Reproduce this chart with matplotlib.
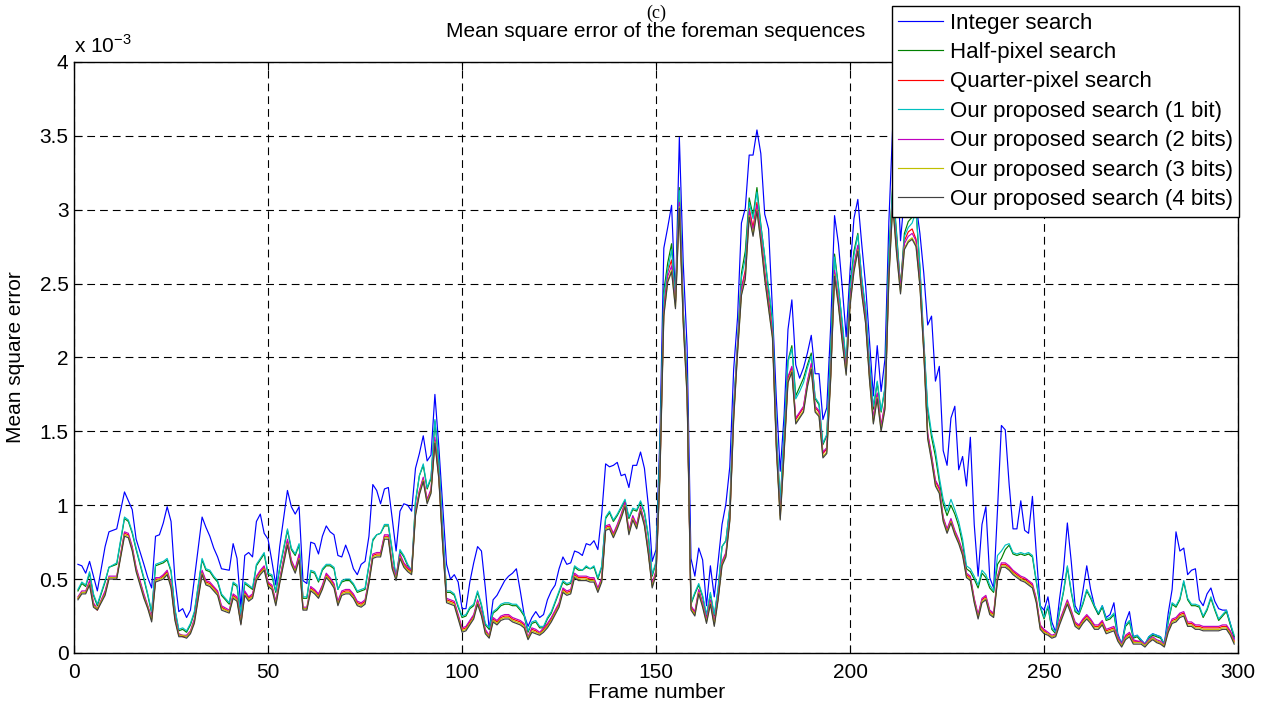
import numpy as np
import matplotlib
matplotlib.use("Agg")
from matplotlib import pyplot as plt
from matplotlib.ticker import FuncFormatter

plt.rcParams["font.family"] = ["Liberation Sans", "DejaVu Sans"]

# frame numbers (first part read at irregular frames, then every frame)
frames = [1, 2, 3, 4, 5, 6, 8, 9, 11, 13, 14, 15, 16, 18, 19, 20, 21, 22, 23,
          24, 25, 26, 27, 28, 29, 30, 31, 33, 34, 35, 36, 37, 38, 40, 41, 42,
          43, 44, 45, 46, 47, 48, 49, 50, 51, 52, 53, 55, 56, 57, 58, 59, 60,
          61, 62, 63, 64, 65] + list(range(66, 300))

# mean square error, in units of 1e-3
integer_search = [
    0.60, 0.59, 0.54, 0.62, 0.52, 0.42, 0.72, 0.82, 0.84, 1.09, 1.03, 0.97, 0.77,
    0.60, 0.51, 0.44, 0.79, 0.80, 0.88, 0.99, 0.89, 0.50, 0.28, 0.30, 0.24, 0.29, 0.50,
    0.92, 0.85, 0.79, 0.71, 0.65, 0.57,
    0.56, 0.74, 0.64, 0.31, 0.66, 0.68, 0.65, 0.89, 0.94, 0.81, 0.77, 0.62, 0.46, 0.72,
    1.10, 0.99, 0.94, 0.99, 0.49, 0.47, 0.75, 0.74, 0.67, 0.79, 0.86,
    0.82, 0.80, 0.66, 0.65, 0.73, 0.66, 0.57, 0.53, 0.60, 0.62,
    0.79, 1.14, 1.10, 1.01, 1.11, 1.12, 0.91, 0.69, 0.96, 1.01,
    1.00, 0.96, 1.25, 1.35, 1.47, 1.30, 1.34, 1.75, 1.40, 1.00,
    0.60, 0.50, 0.53, 0.48, 0.30, 0.30, 0.48, 0.61, 0.72, 0.69,
    0.44, 0.16, 0.36, 0.39, 0.44, 0.49, 0.52, 0.54, 0.57, 0.42,
    0.26, 0.18, 0.24, 0.28, 0.24, 0.26, 0.36, 0.42, 0.46, 0.57,
    0.65, 0.60, 0.61, 0.69, 0.68, 0.66, 0.74, 0.73, 0.76, 0.70,
    0.94, 1.28, 1.26, 1.27, 1.29, 1.20, 1.21, 1.12, 1.27, 1.27,
    1.36, 1.25, 1.00, 0.62, 0.70, 1.47, 2.74, 2.88, 3.03, 2.38,
    3.49, 2.64, 2.07, 0.64, 0.52, 0.71, 0.63, 0.32, 0.59, 0.38,
    0.62, 0.87, 1.01, 1.26, 1.92, 2.27, 2.91, 3.01, 3.37, 3.37,
    3.54, 3.38, 2.97, 2.87, 2.32, 1.72, 1.23, 1.61, 2.19, 2.39,
    1.95, 1.86, 1.93, 2.03, 2.15, 1.89, 1.89, 1.58, 1.66, 2.21,
    2.96, 2.77, 2.47, 2.14, 2.59, 2.94, 3.07, 2.77, 2.49, 2.12,
    1.74, 2.08, 1.77, 1.99, 2.92, 3.57, 3.37, 2.79, 3.09, 3.17,
    3.27, 3.04, 2.84, 2.57, 2.22, 2.28, 1.84, 1.94, 1.37, 1.27,
    1.59, 1.67, 1.24, 1.33, 1.13, 1.46, 0.87, 0.52, 0.87, 0.99,
    0.51, 0.44, 0.97, 1.54, 1.51, 1.14, 0.84, 0.84, 1.03, 0.83,
    0.81, 1.06, 0.67, 0.32, 0.29, 0.38, 0.21, 0.14, 0.37, 0.56,
    0.88, 0.62, 0.32, 0.27, 0.42, 0.59, 0.43, 0.32, 0.26, 0.32,
    0.24, 0.26, 0.34, 0.13, 0.06, 0.21, 0.28, 0.11, 0.12, 0.09,
    0.06, 0.11, 0.13, 0.12, 0.11, 0.06, 0.27, 0.43, 0.82, 0.69,
    0.71, 0.53, 0.56, 0.57, 0.36, 0.32, 0.40, 0.44, 0.35, 0.30,
    0.29, 0.29, 0.20, 0.10]

half_pixel = [
    0.42, 0.47, 0.45, 0.54, 0.39, 0.32, 0.48, 0.58, 0.60, 0.91, 0.89, 0.81, 0.70,
    0.50, 0.39, 0.27, 0.59, 0.60, 0.61, 0.63, 0.55, 0.29, 0.15, 0.16, 0.14, 0.19, 0.27,
    0.63, 0.56, 0.55, 0.51, 0.48, 0.39,
    0.33, 0.47, 0.45, 0.25, 0.47, 0.45, 0.43, 0.59, 0.63, 0.67, 0.53, 0.52, 0.41, 0.57,
    0.83, 0.70, 0.66, 0.73, 0.37, 0.37, 0.55, 0.54, 0.48, 0.56, 0.59,
    0.59, 0.57, 0.43, 0.48, 0.49, 0.49, 0.46, 0.41, 0.42, 0.43,
    0.59, 0.76, 0.80, 0.81, 0.86, 0.86, 0.69, 0.50, 0.69, 0.65,
    0.59, 0.55, 1.02, 1.20, 1.27, 1.11, 1.18, 1.57, 1.29, 0.82,
    0.41, 0.41, 0.39, 0.31, 0.24, 0.25, 0.30, 0.32, 0.41, 0.32,
    0.19, 0.16, 0.27, 0.29, 0.32, 0.33, 0.33, 0.32, 0.32, 0.29,
    0.25, 0.14, 0.20, 0.21, 0.17, 0.17, 0.23, 0.27, 0.34, 0.41,
    0.48, 0.46, 0.47, 0.58, 0.56, 0.56, 0.58, 0.57, 0.58, 0.50,
    0.58, 0.91, 0.95, 0.89, 0.93, 0.98, 1.03, 0.91, 0.97, 0.96,
    1.02, 0.95, 0.79, 0.52, 0.61, 1.36, 2.45, 2.64, 2.77, 2.40,
    3.15, 2.33, 1.82, 0.33, 0.40, 0.46, 0.38, 0.25, 0.40, 0.25,
    0.43, 0.72, 0.76, 0.98, 1.66, 2.10, 2.57, 2.72, 3.08, 2.96,
    3.15, 2.90, 2.68, 2.45, 2.25, 1.48, 1.01, 1.48, 1.98, 2.08,
    1.74, 1.80, 1.86, 1.95, 2.03, 1.72, 1.68, 1.41, 1.47, 2.03,
    2.70, 2.48, 2.22, 1.95, 2.48, 2.72, 2.84, 2.53, 2.32, 1.95,
    1.65, 1.83, 1.63, 1.79, 2.70, 3.17, 2.84, 2.48, 2.84, 2.92,
    2.95, 3.00, 2.60, 2.10, 1.64, 1.46, 1.33, 1.16, 1.01, 0.93,
    1.00, 0.94, 0.86, 0.74, 0.57, 0.55, 0.50, 0.44, 0.54, 0.51,
    0.44, 0.41, 0.60, 0.64, 0.70, 0.73, 0.67, 0.66, 0.67, 0.66,
    0.67, 0.65, 0.48, 0.31, 0.23, 0.31, 0.16, 0.13, 0.28, 0.41,
    0.58, 0.41, 0.28, 0.26, 0.33, 0.42, 0.37, 0.31, 0.26, 0.31,
    0.22, 0.23, 0.26, 0.11, 0.06, 0.18, 0.21, 0.10, 0.11, 0.08,
    0.06, 0.10, 0.12, 0.11, 0.10, 0.06, 0.21, 0.33, 0.31, 0.36,
    0.48, 0.36, 0.32, 0.32, 0.31, 0.24, 0.29, 0.37, 0.29, 0.22,
    0.25, 0.28, 0.19, 0.11]

quarter_pixel = [
    0.37, 0.41, 0.41, 0.48, 0.33, 0.29, 0.41, 0.51, 0.51, 0.81, 0.80, 0.71, 0.57,
    0.39, 0.31, 0.23, 0.50, 0.50, 0.52, 0.55, 0.46, 0.24, 0.12, 0.11, 0.11, 0.14, 0.22,
    0.55, 0.48, 0.47, 0.44, 0.41, 0.31,
    0.28, 0.39, 0.37, 0.20, 0.41, 0.37, 0.39, 0.51, 0.55, 0.58, 0.47, 0.45, 0.34, 0.49,
    0.76, 0.62, 0.56, 0.66, 0.30, 0.30, 0.44, 0.42, 0.39, 0.45, 0.53,
    0.50, 0.46, 0.34, 0.41, 0.42, 0.42, 0.39, 0.34, 0.33, 0.35,
    0.49, 0.66, 0.67, 0.67, 0.79, 0.79, 0.59, 0.51, 0.66, 0.60,
    0.57, 0.55, 0.95, 1.09, 1.18, 1.03, 1.10, 1.44, 1.20, 0.75,
    0.36, 0.35, 0.34, 0.25, 0.16, 0.17, 0.21, 0.25, 0.35, 0.27,
    0.15, 0.11, 0.23, 0.21, 0.24, 0.25, 0.25, 0.23, 0.22, 0.21,
    0.19, 0.10, 0.16, 0.15, 0.13, 0.16, 0.19, 0.23, 0.28, 0.33,
    0.43, 0.41, 0.42, 0.53, 0.51, 0.51, 0.51, 0.50, 0.50, 0.43,
    0.50, 0.85, 0.86, 0.80, 0.86, 0.93, 1.01, 0.82, 0.92, 0.86,
    0.98, 0.88, 0.69, 0.46, 0.55, 1.23, 2.34, 2.58, 2.66, 2.38,
    3.07, 2.28, 1.78, 0.31, 0.27, 0.42, 0.33, 0.22, 0.35, 0.20,
    0.38, 0.61, 0.67, 0.91, 1.61, 2.06, 2.47, 2.59, 3.01, 2.88,
    3.05, 2.83, 2.58, 2.38, 2.18, 1.41, 0.93, 1.38, 1.86, 1.93,
    1.58, 1.62, 1.66, 1.83, 1.95, 1.66, 1.63, 1.35, 1.38, 1.88,
    2.58, 2.38, 2.13, 1.91, 2.38, 2.61, 2.75, 2.46, 2.26, 1.88,
    1.58, 1.75, 1.53, 1.68, 2.58, 3.09, 2.75, 2.48, 2.79, 2.85,
    2.87, 2.80, 2.51, 2.06, 1.48, 1.33, 1.16, 1.11, 0.91, 0.83,
    0.90, 0.82, 0.76, 0.68, 0.53, 0.51, 0.36, 0.25, 0.36, 0.38,
    0.28, 0.26, 0.51, 0.60, 0.60, 0.58, 0.55, 0.53, 0.51, 0.50,
    0.48, 0.46, 0.36, 0.18, 0.15, 0.13, 0.11, 0.12, 0.21, 0.28,
    0.35, 0.28, 0.20, 0.18, 0.22, 0.25, 0.22, 0.18, 0.18, 0.21,
    0.15, 0.16, 0.17, 0.10, 0.06, 0.11, 0.13, 0.08, 0.08, 0.07,
    0.06, 0.08, 0.10, 0.08, 0.07, 0.05, 0.16, 0.22, 0.23, 0.26,
    0.27, 0.20, 0.20, 0.18, 0.18, 0.17, 0.17, 0.17, 0.17, 0.17,
    0.18, 0.18, 0.14, 0.08]

proposed_1bit = [
    0.43, 0.48, 0.46, 0.55, 0.40, 0.33, 0.49, 0.58, 0.61, 0.92, 0.90, 0.82, 0.71,
    0.51, 0.40, 0.28, 0.60, 0.61, 0.62, 0.64, 0.56, 0.30, 0.16, 0.17, 0.15, 0.20, 0.28,
    0.64, 0.57, 0.56, 0.52, 0.49, 0.40,
    0.34, 0.48, 0.46, 0.26, 0.48, 0.46, 0.44, 0.60, 0.64, 0.68, 0.54, 0.53, 0.42, 0.58,
    0.84, 0.71, 0.67, 0.74, 0.38, 0.38, 0.56, 0.55, 0.49, 0.57, 0.60,
    0.60, 0.58, 0.43, 0.49, 0.50, 0.50, 0.47, 0.42, 0.43, 0.44,
    0.60, 0.77, 0.80, 0.81, 0.87, 0.87, 0.70, 0.51, 0.70, 0.66,
    0.60, 0.56, 1.03, 1.20, 1.28, 1.12, 1.19, 1.58, 1.30, 0.83,
    0.42, 0.42, 0.40, 0.32, 0.25, 0.26, 0.31, 0.33, 0.42, 0.33,
    0.20, 0.17, 0.28, 0.30, 0.33, 0.34, 0.34, 0.33, 0.33, 0.30,
    0.26, 0.15, 0.21, 0.22, 0.18, 0.18, 0.24, 0.28, 0.35, 0.42,
    0.49, 0.47, 0.48, 0.59, 0.57, 0.56, 0.59, 0.57, 0.59, 0.51,
    0.59, 0.92, 0.96, 0.90, 0.94, 0.99, 1.04, 0.92, 0.98, 0.97,
    1.03, 0.96, 0.80, 0.53, 0.62, 1.37, 2.42, 2.59, 2.73, 2.39,
    3.13, 2.32, 1.82, 0.34, 0.41, 0.47, 0.39, 0.26, 0.41, 0.26,
    0.44, 0.72, 0.76, 0.99, 1.67, 2.09, 2.54, 2.67, 3.05, 2.94,
    3.12, 2.89, 2.69, 2.47, 2.27, 1.49, 1.02, 1.49, 1.97, 2.06,
    1.72, 1.77, 1.83, 1.93, 2.01, 1.73, 1.69, 1.42, 1.48, 2.02,
    2.68, 2.47, 2.24, 1.97, 2.47, 2.69, 2.83, 2.54, 2.34, 1.97,
    1.67, 1.84, 1.64, 1.80, 2.69, 3.15, 2.82, 2.47, 2.82, 2.88,
    2.91, 2.99, 2.62, 2.12, 1.67, 1.49, 1.37, 1.19, 1.04, 0.96,
    1.04, 0.97, 0.89, 0.77, 0.59, 0.57, 0.52, 0.46, 0.56, 0.53,
    0.46, 0.42, 0.66, 0.69, 0.73, 0.74, 0.68, 0.67, 0.68, 0.67,
    0.68, 0.66, 0.49, 0.32, 0.24, 0.32, 0.17, 0.14, 0.29, 0.42,
    0.59, 0.42, 0.29, 0.27, 0.34, 0.43, 0.38, 0.32, 0.27, 0.32,
    0.23, 0.24, 0.27, 0.12, 0.06, 0.19, 0.22, 0.11, 0.12, 0.09,
    0.06, 0.11, 0.13, 0.12, 0.11, 0.06, 0.22, 0.34, 0.32, 0.37,
    0.49, 0.37, 0.33, 0.33, 0.32, 0.25, 0.30, 0.38, 0.30, 0.23,
    0.26, 0.29, 0.20, 0.12]

proposed_2bits = [
    0.38, 0.42, 0.42, 0.49, 0.34, 0.30, 0.42, 0.52, 0.52, 0.82, 0.81, 0.72, 0.58,
    0.40, 0.32, 0.24, 0.51, 0.51, 0.53, 0.56, 0.47, 0.25, 0.13, 0.12, 0.12, 0.15, 0.23,
    0.56, 0.49, 0.48, 0.45, 0.42, 0.32,
    0.29, 0.40, 0.38, 0.21, 0.42, 0.38, 0.40, 0.52, 0.56, 0.59, 0.48, 0.46, 0.35, 0.50,
    0.77, 0.63, 0.57, 0.67, 0.31, 0.31, 0.45, 0.43, 0.40, 0.46, 0.54,
    0.51, 0.47, 0.35, 0.42, 0.43, 0.43, 0.40, 0.35, 0.34, 0.36,
    0.50, 0.67, 0.68, 0.68, 0.80, 0.80, 0.60, 0.52, 0.67, 0.61,
    0.58, 0.56, 0.96, 1.10, 1.19, 1.04, 1.11, 1.46, 1.21, 0.76,
    0.37, 0.36, 0.35, 0.26, 0.17, 0.18, 0.22, 0.26, 0.36, 0.28,
    0.16, 0.12, 0.24, 0.22, 0.25, 0.26, 0.26, 0.24, 0.23, 0.22,
    0.20, 0.11, 0.17, 0.16, 0.14, 0.17, 0.20, 0.24, 0.29, 0.34,
    0.44, 0.42, 0.43, 0.54, 0.52, 0.52, 0.52, 0.51, 0.51, 0.44,
    0.51, 0.86, 0.87, 0.81, 0.87, 0.94, 1.02, 0.83, 0.93, 0.87,
    0.99, 0.89, 0.70, 0.47, 0.56, 1.24, 2.32, 2.55, 2.62, 2.37,
    3.05, 2.27, 1.77, 0.32, 0.28, 0.43, 0.34, 0.23, 0.36, 0.21,
    0.39, 0.62, 0.68, 0.92, 1.62, 2.07, 2.46, 2.57, 2.99, 2.86,
    3.03, 2.82, 2.57, 2.37, 2.17, 1.42, 0.94, 1.39, 1.87, 1.94,
    1.59, 1.63, 1.67, 1.84, 1.96, 1.67, 1.64, 1.36, 1.39, 1.89,
    2.59, 2.39, 2.14, 1.92, 2.39, 2.62, 2.76, 2.47, 2.27, 1.89,
    1.59, 1.76, 1.54, 1.69, 2.57, 3.07, 2.74, 2.47, 2.77, 2.82,
    2.84, 2.79, 2.52, 2.07, 1.49, 1.34, 1.17, 1.12, 0.92, 0.84,
    0.91, 0.83, 0.77, 0.69, 0.54, 0.52, 0.37, 0.26, 0.37, 0.39,
    0.29, 0.27, 0.52, 0.61, 0.61, 0.59, 0.56, 0.54, 0.52, 0.51,
    0.49, 0.47, 0.37, 0.19, 0.16, 0.14, 0.12, 0.13, 0.22, 0.29,
    0.36, 0.29, 0.21, 0.19, 0.23, 0.26, 0.23, 0.19, 0.19, 0.22,
    0.16, 0.17, 0.18, 0.11, 0.06, 0.12, 0.14, 0.09, 0.08, 0.08,
    0.06, 0.09, 0.11, 0.09, 0.08, 0.06, 0.17, 0.23, 0.24, 0.27,
    0.28, 0.21, 0.21, 0.19, 0.19, 0.18, 0.18, 0.18, 0.18, 0.18,
    0.19, 0.19, 0.15, 0.09]

proposed_3bits = [
    0.37, 0.41, 0.41, 0.47, 0.32, 0.30, 0.40, 0.51, 0.51, 0.80, 0.79, 0.70, 0.56,
    0.38, 0.31, 0.22, 0.49, 0.50, 0.51, 0.54, 0.45, 0.23, 0.12, 0.12, 0.11, 0.14, 0.21,
    0.54, 0.47, 0.46, 0.43, 0.40, 0.30,
    0.28, 0.38, 0.36, 0.20, 0.40, 0.36, 0.38, 0.50, 0.54, 0.57, 0.46, 0.44, 0.33, 0.48,
    0.74, 0.61, 0.55, 0.64, 0.30, 0.30, 0.43, 0.41, 0.38, 0.44, 0.52,
    0.49, 0.45, 0.33, 0.40, 0.41, 0.41, 0.38, 0.33, 0.32, 0.34,
    0.48, 0.65, 0.66, 0.66, 0.78, 0.78, 0.58, 0.50, 0.65, 0.59,
    0.56, 0.54, 0.94, 1.08, 1.17, 1.02, 1.09, 1.43, 1.19, 0.74,
    0.35, 0.34, 0.33, 0.24, 0.15, 0.16, 0.20, 0.24, 0.34, 0.26,
    0.14, 0.11, 0.22, 0.20, 0.23, 0.24, 0.24, 0.22, 0.21, 0.20,
    0.18, 0.10, 0.15, 0.14, 0.13, 0.15, 0.18, 0.22, 0.27, 0.32,
    0.42, 0.40, 0.41, 0.52, 0.50, 0.50, 0.50, 0.49, 0.49, 0.42,
    0.49, 0.84, 0.85, 0.79, 0.85, 0.92, 1.00, 0.81, 0.91, 0.85,
    0.97, 0.87, 0.68, 0.45, 0.54, 1.21, 2.29, 2.52, 2.59, 2.34,
    3.02, 2.24, 1.74, 0.30, 0.26, 0.41, 0.32, 0.21, 0.34, 0.19,
    0.37, 0.60, 0.66, 0.90, 1.59, 2.04, 2.43, 2.54, 2.96, 2.83,
    3.00, 2.79, 2.54, 2.34, 2.14, 1.39, 0.91, 1.36, 1.84, 1.91,
    1.56, 1.60, 1.64, 1.81, 1.93, 1.64, 1.61, 1.33, 1.36, 1.86,
    2.56, 2.36, 2.11, 1.89, 2.36, 2.59, 2.73, 2.44, 2.24, 1.86,
    1.56, 1.73, 1.51, 1.66, 2.54, 3.04, 2.71, 2.44, 2.74, 2.79,
    2.81, 2.76, 2.49, 2.04, 1.46, 1.31, 1.14, 1.09, 0.90, 0.82,
    0.89, 0.81, 0.75, 0.67, 0.52, 0.50, 0.35, 0.24, 0.35, 0.37,
    0.27, 0.25, 0.50, 0.59, 0.59, 0.57, 0.54, 0.52, 0.50, 0.49,
    0.47, 0.45, 0.35, 0.17, 0.14, 0.13, 0.11, 0.12, 0.20, 0.27,
    0.34, 0.27, 0.19, 0.17, 0.21, 0.24, 0.21, 0.17, 0.17, 0.20,
    0.14, 0.15, 0.16, 0.09, 0.05, 0.10, 0.12, 0.07, 0.07, 0.07,
    0.05, 0.08, 0.10, 0.08, 0.07, 0.05, 0.15, 0.21, 0.22, 0.25,
    0.26, 0.19, 0.19, 0.17, 0.17, 0.16, 0.16, 0.16, 0.16, 0.16,
    0.17, 0.17, 0.13, 0.07]

proposed_4bits = [
    0.36, 0.40, 0.40, 0.46, 0.31, 0.29, 0.39, 0.50, 0.50, 0.79, 0.78, 0.69, 0.55,
    0.37, 0.30, 0.21, 0.48, 0.49, 0.50, 0.53, 0.44, 0.22, 0.11, 0.11, 0.10, 0.13, 0.20,
    0.53, 0.46, 0.45, 0.42, 0.39, 0.29,
    0.27, 0.37, 0.35, 0.19, 0.39, 0.35, 0.37, 0.49, 0.53, 0.56, 0.45, 0.43, 0.32, 0.47,
    0.73, 0.60, 0.54, 0.63, 0.29, 0.29, 0.42, 0.40, 0.37, 0.43, 0.51,
    0.48, 0.44, 0.32, 0.39, 0.40, 0.40, 0.37, 0.32, 0.31, 0.33,
    0.47, 0.64, 0.65, 0.65, 0.77, 0.77, 0.57, 0.49, 0.64, 0.58,
    0.55, 0.53, 0.93, 1.07, 1.16, 1.01, 1.08, 1.42, 1.18, 0.73,
    0.34, 0.33, 0.32, 0.23, 0.14, 0.15, 0.19, 0.23, 0.33, 0.25,
    0.13, 0.10, 0.21, 0.19, 0.22, 0.23, 0.23, 0.21, 0.20, 0.19,
    0.17, 0.09, 0.14, 0.13, 0.12, 0.14, 0.17, 0.21, 0.26, 0.31,
    0.41, 0.39, 0.40, 0.51, 0.49, 0.49, 0.49, 0.48, 0.48, 0.41,
    0.48, 0.83, 0.84, 0.78, 0.84, 0.91, 0.99, 0.80, 0.90, 0.84,
    0.96, 0.86, 0.67, 0.44, 0.53, 1.20, 2.28, 2.51, 2.58, 2.33,
    3.01, 2.23, 1.73, 0.29, 0.25, 0.40, 0.31, 0.20, 0.33, 0.18,
    0.36, 0.59, 0.65, 0.89, 1.58, 2.03, 2.42, 2.53, 2.95, 2.82,
    2.99, 2.78, 2.53, 2.33, 2.13, 1.38, 0.90, 1.35, 1.83, 1.90,
    1.55, 1.59, 1.63, 1.80, 1.92, 1.63, 1.60, 1.32, 1.35, 1.85,
    2.55, 2.35, 2.10, 1.88, 2.35, 2.58, 2.72, 2.43, 2.23, 1.85,
    1.55, 1.72, 1.50, 1.65, 2.53, 3.03, 2.70, 2.43, 2.73, 2.78,
    2.80, 2.75, 2.48, 2.03, 1.45, 1.30, 1.13, 1.08, 0.89, 0.81,
    0.88, 0.80, 0.74, 0.66, 0.51, 0.49, 0.34, 0.23, 0.34, 0.36,
    0.26, 0.24, 0.49, 0.58, 0.58, 0.56, 0.53, 0.51, 0.49, 0.48,
    0.46, 0.44, 0.34, 0.16, 0.13, 0.12, 0.10, 0.11, 0.19, 0.26,
    0.33, 0.26, 0.18, 0.16, 0.20, 0.23, 0.20, 0.16, 0.16, 0.19,
    0.13, 0.14, 0.15, 0.08, 0.04, 0.09, 0.11, 0.06, 0.06, 0.06,
    0.04, 0.07, 0.09, 0.07, 0.06, 0.04, 0.14, 0.20, 0.21, 0.24,
    0.25, 0.18, 0.18, 0.16, 0.16, 0.15, 0.15, 0.15, 0.15, 0.15,
    0.16, 0.16, 0.12, 0.06]

labels = ["Integer search", "Half-pixel search", "Quarter-pixel search",
          "Our proposed search (1 bit)", "Our proposed search (2 bits)",
          "Our proposed search (3 bits)", "Our proposed search (4 bits)"]
colors = [(0, 0, 1), (0, 0.5, 0), (1, 0, 0), (0, 0.75, 0.75),
          (0.75, 0, 0.75), (0.75, 0.75, 0), (0.25, 0.25, 0.25)]
series = [integer_search, half_pixel, quarter_pixel, proposed_1bit,
          proposed_2bits, proposed_3bits, proposed_4bits]

for s in series:
    assert len(s) == len(frames), (len(s), len(frames))

fig = plt.figure(figsize=(12.68, 7.06), dpi=100)
ax = fig.add_axes([0.0584, 0.0751, 0.9180, 0.8371])

for vals, lab, col in zip(series, labels, colors):
    ax.plot(frames, vals, color=col, lw=0.85, label=lab)

ax.set(xlim=(0, 300), ylim=(0, 4),
       xticks=np.arange(0, 301, 50), yticks=np.arange(0, 4.01, 0.5))
ax.yaxis.set_major_formatter(FuncFormatter(lambda v, p: "{:g}".format(v)))
ax.tick_params(direction="in", length=6, width=0.8, top=True, right=True,
               labelsize=15)
ax.tick_params(axis="x", pad=7)
ax.tick_params(axis="y", pad=4)
ax.grid(True, color="black", linestyle=(0, (7, 4.5)), linewidth=0.8)
ax.set_axisbelow(True)
for sp in ax.spines.values():
    sp.set_linewidth(1.0)

ax.set_xlabel("Frame number", fontsize=15, labelpad=1)
ax.set_ylabel("Mean square error", fontsize=15, labelpad=10)

ax.text(0.5, 1.052, "Mean square error of the foreman sequences",
        transform=ax.transAxes, ha="center", va="center", fontsize=15)
ax.text(0.5, 1.083, "(c)", transform=ax.transAxes, ha="center", va="center",
        fontsize=13, family=["Liberation Serif", "DejaVu Serif"])
ax.text(0.0, 1.015, r"x 10$^{\mathregular{-3}}$", transform=ax.transAxes,
        ha="left", va="baseline", fontsize=15)

leg = ax.legend(loc="upper right", bbox_to_anchor=(1.001, 1.095),
                fontsize=16, frameon=True, fancybox=False, framealpha=1,
                edgecolor="black", borderaxespad=0, handlelength=2.0,
                handletextpad=0.3, labelspacing=0.38, borderpad=0.3)
leg.get_frame().set_linewidth(1.0)

plt.savefig("out.png", dpi=100)
plt.close()
